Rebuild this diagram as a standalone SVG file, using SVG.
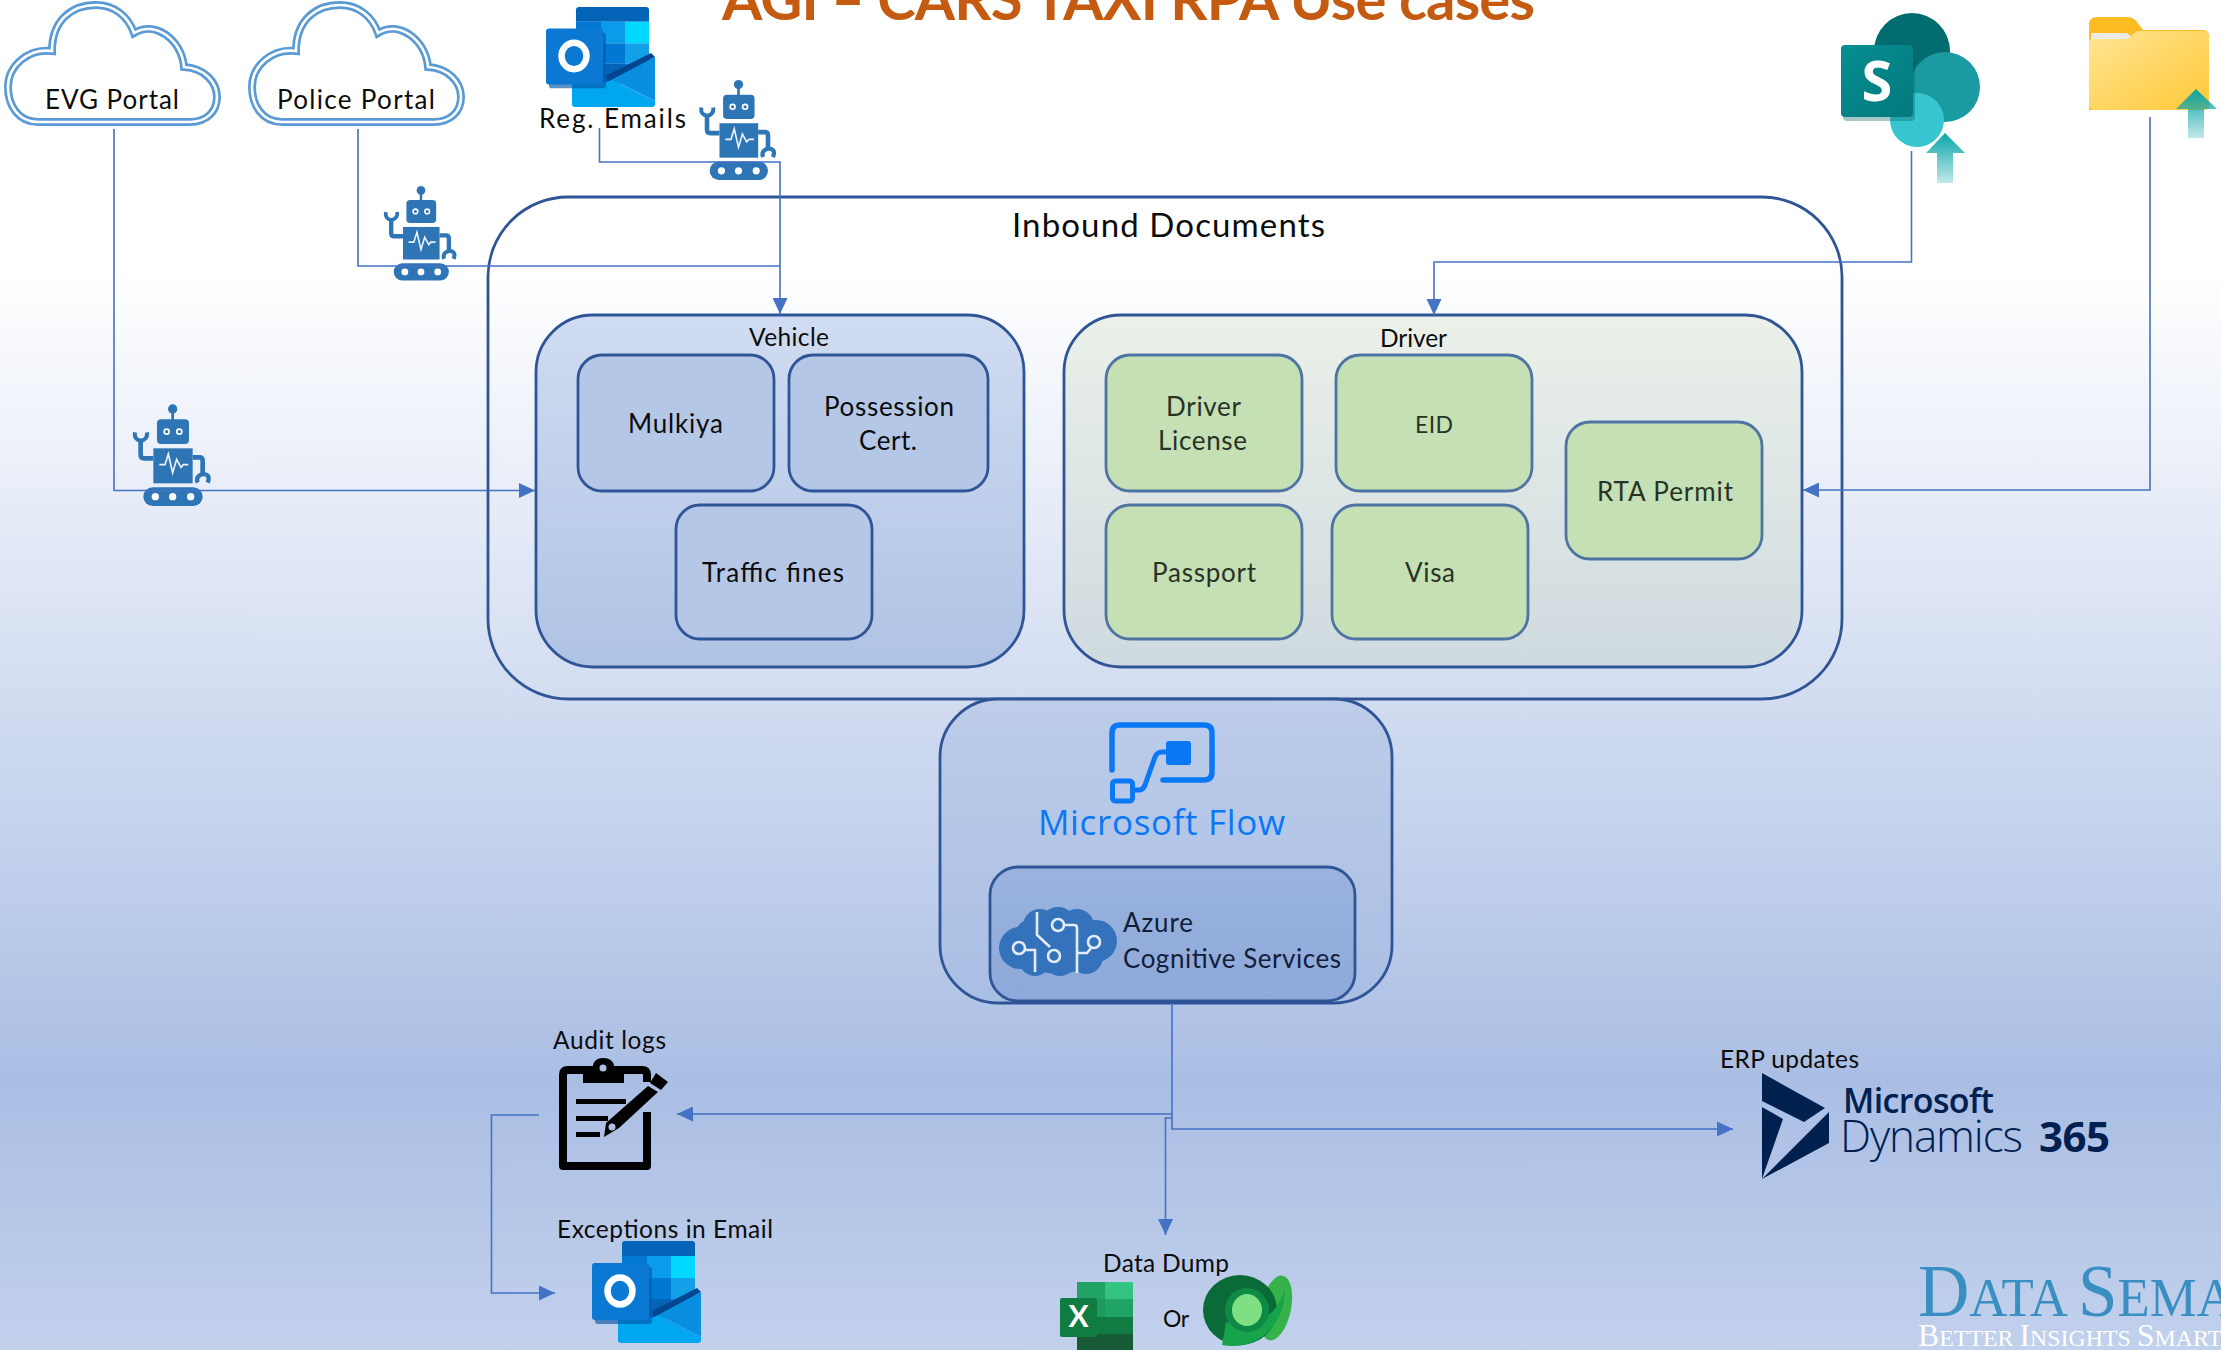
<svg xmlns="http://www.w3.org/2000/svg" xmlns:xlink="http://www.w3.org/1999/xlink" width="2221" height="1350" viewBox="0 0 2221 1350">
<style>
text{font-family:"Lato","Liberation Sans",sans-serif;fill:#0c0c0c;font-size:26px}
text.s{font-size:24.5px}
.g text,text.g{fill:#283328}
.box{fill:#b4c7e7;stroke:#2f5597;stroke-width:2.8}
.grn{fill:#c5e0b4;stroke:#4f74a3;stroke-width:2.8}
.big{stroke:#2f5597;stroke-width:2.8}
.con{fill:none;stroke:#4472c4;stroke-width:1.6}
.arr{marker-end:url(#ah)}
.ms{font-family:"Open Sans","Noto Sans",sans-serif;fill:#002050}
.serif{font-family:"Liberation Serif",serif}
</style>
<defs>
<linearGradient id="bg" x1="0" y1="0" x2="0" y2="1"><stop offset=".2" stop-color="#fff"/><stop offset=".8" stop-color="#aabee4"/><stop offset="1" stop-color="#c2d1ec"/></linearGradient>
<linearGradient id="veh" x1="0" y1="0" x2="0" y2="1"><stop offset="0" stop-color="#d0dcf1"/><stop offset="1" stop-color="#afc3e5"/></linearGradient>
<linearGradient id="drv" x1="0" y1="0" x2="0" y2="1"><stop offset="0" stop-color="#ebf1e9"/><stop offset="1" stop-color="#cfdae0"/></linearGradient>
<linearGradient id="flw" x1="0" y1="0" x2="0" y2="1"><stop offset="0" stop-color="#bdcdea"/><stop offset="1" stop-color="#a9bee3"/></linearGradient>
<linearGradient id="azr" x1="0" y1="0" x2="0" y2="1"><stop offset="0" stop-color="#9ab3de"/><stop offset="1" stop-color="#8da9da"/></linearGradient>
<linearGradient id="fold" x1="0" y1="0" x2="1" y2="1"><stop offset="0" stop-color="#ffe594"/><stop offset="1" stop-color="#ffc837"/></linearGradient>
<linearGradient id="fade" x1="0" y1="0" x2="0" y2="1"><stop offset="0" stop-color="#0aa5a9"/><stop offset="1" stop-color="#0aa5a9" stop-opacity=".25"/></linearGradient>
<linearGradient id="sp" x1="0" y1="0" x2="1" y2="1"><stop offset="0" stop-color="#058f92"/><stop offset="1" stop-color="#03787c"/></linearGradient>
<marker id="ah" markerUnits="userSpaceOnUse" markerWidth="16" markerHeight="15" refX="16" refY="7.5" orient="auto"><path d="M0,0L16,7.5L0,15z" fill="#4472c4"/></marker>
<path id="cloudp" d="M38,122C18,122 8,105 8,87C8,66 28,48 52,51C52,20 72,5 96,5C114,5 128,16 134,33C155,20 182,40 184,67C204,68 217,82 217,97C217,112 206,122 190,122Z"/>
<g id="cloud"><use xlink:href="#cloudp" href="#cloudp" fill="#fff" stroke="#5b9bd5" stroke-width="8"/><use xlink:href="#cloudp" href="#cloudp" fill="none" stroke="#fff" stroke-width="2.6"/></g>
<g id="robot">
<g fill="#2e75b6">
<circle cx="218" cy="87" r="14"/><rect x="214" y="87" width="8" height="35"/>
<rect x="171" y="118" width="96" height="74" rx="12"/>
<rect x="160" y="205" width="118" height="105"/>
<rect x="130" y="322" width="178" height="56" rx="28"/>
</g>
<g fill="none" stroke="#2e75b6">
<path d="M160,235H132Q122,235 122,225V182" stroke-width="14"/>
<path d="M105,157C98,190 146,190 141,157" stroke-width="12"/>
<path d="M278,232H298Q308,232 308,242V282" stroke-width="14"/>
<path d="M293,308C280,278 340,270 323,308" stroke-width="13"/>
</g>
<g fill="#fff"><circle cx="200" cy="155" r="10"/><circle cx="238" cy="155" r="10"/><circle cx="166" cy="350" r="11"/><circle cx="218" cy="350" r="11"/><circle cx="272" cy="350" r="11"/></g>
<circle cx="200" cy="155" r="5" fill="#2e75b6"/><circle cx="238" cy="155" r="5" fill="#2e75b6"/>
<polyline points="178,254 195,254 205,222 218,278 230,238 243,262 250,254 265,254" fill="none" stroke="#eef3fb" stroke-width="5"/>
</g>
<g id="outlook">
<path d="M30,15V3Q30,0 33,0H100Q103,0 103,3V15Z" fill="#0364b8"/>
<rect x="30" y="15" width="25" height="22" fill="#0078d4"/><rect x="55" y="15" width="24" height="22" fill="#0a9cea"/><rect x="79" y="15" width="24" height="22" fill="#00d8ff"/>
<rect x="30" y="37" width="25" height="21" fill="#0364b8"/><rect x="55" y="37" width="24" height="21" fill="#0078d4"/><rect x="79" y="37" width="24" height="21" fill="#14a0e8"/>
<rect x="30" y="58" width="25" height="20" fill="#0358a7"/><rect x="55" y="58" width="24" height="20" fill="#0364b8"/><rect x="79" y="58" width="24" height="20" fill="#0a78d4"/>
<path d="M60,70L105,47L109,51L62,77Z" fill="#03468f"/>
<path d="M66,74L109,51V96Z" fill="#0a8ee0"/>
<path d="M26,70L60,77L66,74L109,96V99Q109,102 106,102H29Q26,102 26,99Z" fill="#00a6ef"/>
<rect x="3" y="26" width="57" height="57" rx="3" fill="#0358a7" opacity=".65"/>
<rect x="0" y="22" width="57" height="57" rx="3" fill="#0b78d4"/>
<ellipse cx="28" cy="50" rx="12.5" ry="13.5" fill="none" stroke="#fff" stroke-width="6.5"/>
</g>
</defs>

<rect id="background" width="2221" height="1350" fill="url(#bg)"/>
<text id="title" x="722" y="20" textLength="813" style="font-size:58px;font-weight:700;fill:#c55a11">AGI – CARS TAXI RPA Use cases</text>

<g id="inbound-documents">
<rect class="big" x="488" y="197" width="1354" height="502" rx="80" fill="none"/>
<text x="1012" y="237" textLength="313" style="font-size:33px">Inbound Documents</text>
</g>

<g id="vehicle">
<rect class="big" x="536" y="315" width="488" height="352" rx="57" fill="url(#veh)"/>
<text class="s" x="749" y="346" textLength="80">Vehicle</text>
</g>
<g id="mulkiya"><rect class="box" x="578" y="355" width="196" height="136" rx="24"/><text x="628" y="433" textLength="95">Mulkiya</text></g>
<g id="possession"><rect class="box" x="789" y="355" width="199" height="136" rx="24"/><text x="824" y="416" textLength="130">Possession</text><text x="859" y="450" textLength="58">Cert.</text></g>
<g id="traffic-fines"><rect class="box" x="676" y="505" width="196" height="134" rx="24"/><text x="702" y="582" textLength="142">Traffic fines</text></g>

<g id="driver">
<rect class="big" x="1064" y="315" width="738" height="352" rx="57" fill="url(#drv)"/>
<text class="s" x="1380" y="347" textLength="67">Driver</text>
</g>
<g id="driver-license" class="g"><rect class="grn" x="1106" y="355" width="196" height="136" rx="24"/><text x="1166" y="416" textLength="75">Driver</text><text x="1158" y="450" textLength="89">License</text></g>
<g id="eid" class="g"><rect class="grn" x="1336" y="355" width="196" height="136" rx="24"/><text x="1415" y="433" textLength="38" style="font-size:23px">EID</text></g>
<g id="passport" class="g"><rect class="grn" x="1106" y="505" width="196" height="134" rx="24"/><text x="1152" y="582" textLength="104">Passport</text></g>
<g id="visa" class="g"><rect class="grn" x="1332" y="505" width="196" height="134" rx="24"/><text x="1405" y="582" textLength="50">Visa</text></g>
<g id="rta-permit" class="g"><rect class="grn" x="1566" y="422" width="196" height="137" rx="24"/><text x="1597" y="501" textLength="136">RTA Permit</text></g>

<g id="microsoft-flow">
<rect class="big" x="940" y="699" width="452" height="304" rx="58" fill="url(#flw)"/>
<g fill="none" stroke="#0a78f5" stroke-linecap="round" stroke-linejoin="round">
<path d="M1112,770V733Q1112,725 1120,725H1204Q1212,725 1212,733V772Q1212,780 1204,780H1163" stroke-width="5.5"/>
<rect x="1112.500" y="781" width="20" height="20" rx="3" stroke-width="5"/>
<path d="M1134,790H1139Q1143,790 1145,785L1155,757Q1157,752 1162,752H1168" stroke-width="5"/>
</g>
<rect x="1166" y="741" width="25" height="24" rx="3" fill="#0a78f5"/>
<text x="1038" y="835" textLength="247" style="font-family:'Open Sans','Noto Sans',sans-serif;font-size:35px;fill:#0a78f5">Microsoft Flow</text>
</g>

<g id="azure-cognitive-services">
<rect class="big" x="990" y="867" width="365" height="134" rx="28" fill="url(#azr)"/>
<g fill="#3472bc">
<ellipse cx="1058" cy="942" rx="46" ry="32"/><circle cx="1020" cy="948" r="21"/><circle cx="1040" cy="926" r="17"/><circle cx="1058" cy="925" r="18"/><circle cx="1077" cy="926" r="17"/><circle cx="1096" cy="941" r="21"/><circle cx="1086" cy="957" r="17"/><circle cx="1060" cy="960" r="16"/><circle cx="1035" cy="960" r="16"/>
</g>
<g fill="none" stroke="#e4ecf7" stroke-width="2.6">
<path d="M1037,912V935L1050,947"/><circle cx="1054" cy="956" r="6"/>
<circle cx="1058" cy="925" r="6"/><path d="M1064,925H1074Q1077,925 1077,928V973"/>
<circle cx="1094" cy="942" r="6"/><path d="M1091,948L1087,953H1077"/>
<circle cx="1019" cy="948" r="6"/><path d="M1025,950H1035V972"/>
</g>
<text x="1123" y="932" textLength="70" style="fill:#12203a">Azure</text>
<text x="1123" y="968" textLength="218" style="fill:#12203a">Cognitive Services</text>
</g>

<g id="evg-portal"><use xlink:href="#cloud" href="#cloud"/><text x="45" y="109" textLength="134">EVG Portal</text></g>
<g id="police-portal"><use xlink:href="#cloud" href="#cloud" transform="translate(244,0)"/><text x="277" y="109" textLength="158">Police Portal</text></g>
<g id="reg-emails"><use xlink:href="#outlook" href="#outlook" transform="translate(546,7) scale(1,.98)"/><text x="539" y="128" textLength="147">Reg. Emails</text></g>
<g id="robot-evg"><use xlink:href="#robot" href="#robot" transform="translate(100,380) scale(.3333)"/></g>
<g id="robot-police"><use xlink:href="#robot" href="#robot" transform="translate(353.400,163.400) scale(.31)"/></g>
<g id="robot-emails"><use xlink:href="#robot" href="#robot" transform="translate(667,56) scale(.328)"/></g>

<g id="sharepoint">
<circle cx="1912" cy="51" r="38" fill="#036c70"/>
<circle cx="1945" cy="87" r="35" fill="#1a9ba1"/>
<circle cx="1917" cy="120" r="27" fill="#37c6d0"/>
<rect x="1843" y="48" width="72" height="73" rx="4" fill="#025c60" opacity=".35"/>
<rect x="1841" y="45" width="72" height="72" rx="4" fill="url(#sp)"/>
<text x="1877" y="101" text-anchor="middle" style="font-family:'Open Sans','Noto Sans',sans-serif;font-weight:700;font-size:56px;fill:#fff">S</text>
<path d="M1926,153L1945,133L1965,153H1953V183H1937V153Z" fill="url(#fade)"/>
</g>

<g id="folder">
<path d="M2089,110V25Q2089,17 2097,17H2127Q2133,17 2137,22L2143,30H2203Q2209,30 2209,36V106Q2209,110 2203,110Z" fill="#fdbc22"/>
<path d="M2091,33H2127L2135,39H2091Z" fill="#eceae4"/>
<path d="M2089,105V42Q2089,39 2092,39H2127L2137,31H2203Q2209,31 2209,37V104Q2209,110 2203,110H2095Q2089,110 2089,105Z" fill="url(#fold)"/>
<path d="M2176,109L2196,89L2217,109H2204V138H2188V109Z" fill="url(#fade)"/>
</g>

<g id="audit-logs">
<text class="s" x="553" y="1049" textLength="113">Audit logs</text>
<path d="M624,1070H642Q647,1070 647,1075V1082M647,1112V1166H563V1075Q563,1070 568,1070H583" fill="none" stroke="#000" stroke-width="8" stroke-linejoin="round"/>
<path d="M583,1083V1066H593Q594,1058 603,1058Q613,1058 614,1066H624V1083Z" fill="#000"/>
<circle cx="603" cy="1068" r="3.500" fill="#aebfe4"/>
<rect x="576" y="1099" width="50" height="5" fill="#000"/><rect x="576" y="1116" width="32" height="5" fill="#000"/><rect x="576" y="1132" width="24" height="5" fill="#000"/>
<path d="M648,1086L658,1092L619,1128L604,1137L606,1123Z" fill="#000"/>
<path d="M650,1083L656,1073L668,1082L661,1090Z" fill="#000"/>
<circle cx="612" cy="1127" r="3.500" fill="#aebfe4"/>
</g>

<g id="exceptions-email">
<use xlink:href="#outlook" href="#outlook" transform="translate(592,1241)"/>
<text class="s" x="557" y="1238" textLength="216">Exceptions in Email</text>
</g>

<g id="data-dump">
<text class="s" x="1103" y="1272" textLength="126">Data Dump</text>
<rect x="1077" y="1282" width="28" height="17" fill="#21a366"/><rect x="1105" y="1282" width="28" height="17" fill="#33c481"/>
<rect x="1077" y="1299" width="28" height="18" fill="#1f9a5f"/><rect x="1105" y="1299" width="28" height="18" fill="#21a366"/>
<rect x="1077" y="1317" width="28" height="17" fill="#107c41"/><rect x="1105" y="1317" width="28" height="17" fill="#107c41"/>
<rect x="1077" y="1334" width="56" height="16" fill="#185c37"/>
<rect x="1060" y="1298" width="37" height="39" rx="2" fill="#107c41"/>
<text x="1078.500" y="1327" text-anchor="middle" style="font-size:30px;font-weight:700;fill:#fff">X</text>
<text x="1163" y="1327" textLength="26" style="font-size:23px">Or</text>
<ellipse cx="1276" cy="1308" rx="15" ry="33" transform="rotate(12 1276 1308)" fill="#35b34a"/>
<ellipse cx="1240" cy="1310" rx="37" ry="35" fill="#0a6b38"/>
<path d="M1222,1345C1262,1352 1285,1320 1285,1290C1275,1320 1250,1330 1226,1322Z" fill="#17a34a"/>
<ellipse cx="1247" cy="1310" rx="22" ry="22" fill="#0f8a45"/>
<ellipse cx="1247" cy="1310" rx="15" ry="16" fill="#7fe083"/>
</g>

<g id="dynamics-365">
<text class="s" x="1720" y="1068" textLength="139">ERP updates</text>
<path d="M1762,1073L1825,1108L1804,1122L1762,1101Z" fill="#002050"/>
<path d="M1762,1107L1783,1119L1762,1179Z" fill="#002050"/>
<path d="M1829,1112V1143L1762,1179Z" fill="#002050"/>
<text class="ms" x="1843" y="1113" textLength="151" style="font-size:34px;font-weight:600">Microsoft</text>
<text class="ms" x="1840" y="1152" textLength="183" style="font-size:44px;font-weight:300">Dynamics</text>
<text class="ms" x="2039" y="1152" textLength="71" style="font-size:42px;font-weight:700">365</text>
</g>

<g id="data-semantics-logo">
<text class="serif" x="1918" y="1316" textLength="317" lengthAdjust="spacingAndGlyphs" style="font-size:55px;fill:#3a8fc2"><tspan style="font-size:74px">D</tspan>ATA <tspan style="font-size:74px">S</tspan>EMA</text>
<text class="serif" x="1918" y="1346" textLength="304" lengthAdjust="spacingAndGlyphs" style="font-size:24px;fill:#fff"><tspan style="font-size:32px">B</tspan>ETTER <tspan style="font-size:32px">I</tspan>NSIGHTS <tspan style="font-size:32px">S</tspan>MART</text>
</g>

<g id="connectors">
<path class="con arr" d="M114,129V490.500H535"/>
<path class="con" d="M358,129V266H780"/>
<path class="con arr" d="M599.500,128V162H780V314"/>
<path class="con arr" d="M1911.500,151V262H1434V315"/>
<path class="con arr" d="M2150,117V490H1803"/>
<path class="con arr" d="M1172,1003V1114H677"/>
<path class="con arr" d="M1172,1114V1129H1733"/>
<path class="con arr" d="M1172,1118H1165.500V1235"/>
<path class="con arr" d="M539,1115H491.500V1293H555"/>
</g>
</svg>
